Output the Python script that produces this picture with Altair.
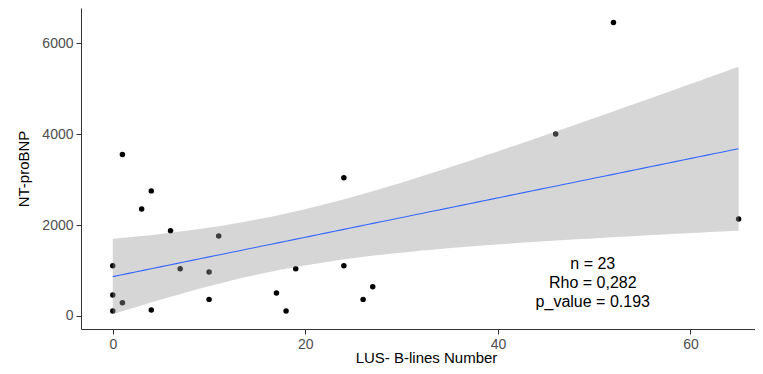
import altair as alt
import numpy as np
import pandas as pd

# data
lus_blines = [1, 4, 3, 6, 11, 0, 7, 10, 19, 0, 1, 0, 4, 10, 17, 18, 24, 24, 27, 26, 65, 52, 46]
nt_probnp = [3550, 2750, 2350, 1875, 1760, 1105, 1040, 965, 1040, 460, 290, 110, 130, 365,
             505, 110, 3040, 1105, 645, 365, 2130, 6450, 4000]
x_ticks = [0, 20, 40, 60]
y_ticks = [0, 2000, 4000, 6000]
stats_text = ["n = 23", "Rho = 0,282", "p_value = 0.193"]

pts = pd.DataFrame({"x": lus_blines, "y": nt_probnp})

# linear fit with 95% confidence band (like geom_smooth(method="lm"))
xa = np.array(lus_blines, float)
ya = np.array(nt_probnp, float)
n = len(xa)
b1, b0 = np.polyfit(xa, ya, 1)
resid = ya - (b0 + b1 * xa)
s = np.sqrt((resid ** 2).sum() / (n - 2))
sxx = ((xa - xa.mean()) ** 2).sum()
t975 = 2.0796  # t quantile, df = 21
grid = np.linspace(xa.min(), xa.max(), 80)
fit = b0 + b1 * grid
se = s * np.sqrt(1.0 / n + (grid - xa.mean()) ** 2 / sxx)
band = pd.DataFrame({"x": grid, "fit": fit, "lo": fit - t975 * se, "hi": fit + t975 * se})

xs = alt.Scale(domain=[-3.3, 66.7], nice=False, zero=False)
ys = alt.Scale(domain=[-286, 6770], nice=False, zero=False)

xenc = alt.X("x:Q", scale=xs, title="LUS- B-lines Number",
             axis=alt.Axis(values=x_ticks, format="d", titleX=345, titleY=33,
                           titleBaseline="alphabetic"))
yenc = alt.Y("y:Q", scale=ys, title="NT-proBNP",
             axis=alt.Axis(values=y_ticks, format="d", titleX=-58, titleBaseline="middle"))

points = alt.Chart(pts).mark_circle(size=30, color="black", opacity=1).encode(x=xenc, y=yenc)

ribbon = alt.Chart(band).mark_area(color="#999999", opacity=0.4).encode(
    x=alt.X("x:Q", scale=xs), y=alt.Y("lo:Q", scale=ys), y2="hi:Q")

line = alt.Chart(band).mark_line(color="#3366FF", strokeWidth=1.1).encode(
    x=alt.X("x:Q", scale=xs), y=alt.Y("fit:Q", scale=ys))

ann = alt.Chart(pd.DataFrame({"x": [49.85], "y": [1143], "t": ["\n".join(stats_text)]})).mark_text(
    fontSize=16, font="Liberation Sans", color="black", align="center", baseline="middle",
    lineBreak="\n", lineHeight=19).encode(x=alt.X("x:Q", scale=xs), y=alt.Y("y:Q", scale=ys), text="t:N")

chart = alt.layer(points, ribbon, line, ann).properties(
    width=674, height=321,
    autosize=alt.AutoSizeParams(type="none"),
    padding={"left": 73, "top": 0, "right": 0, "bottom": 37},
).configure_view(stroke=None).configure_axis(
    grid=False, domainColor="#333333", domainWidth=1, tickColor="#333333", tickSize=5,
    labelFont="Liberation Sans", labelFontSize=14, labelColor="#4D4D4D", labelPadding=3,
    titleFont="Liberation Sans", titleFontSize=15, titleColor="black", titleFontWeight="normal",
)

chart.save("out.html", embed_options={"renderer": "svg", "actions": False})
